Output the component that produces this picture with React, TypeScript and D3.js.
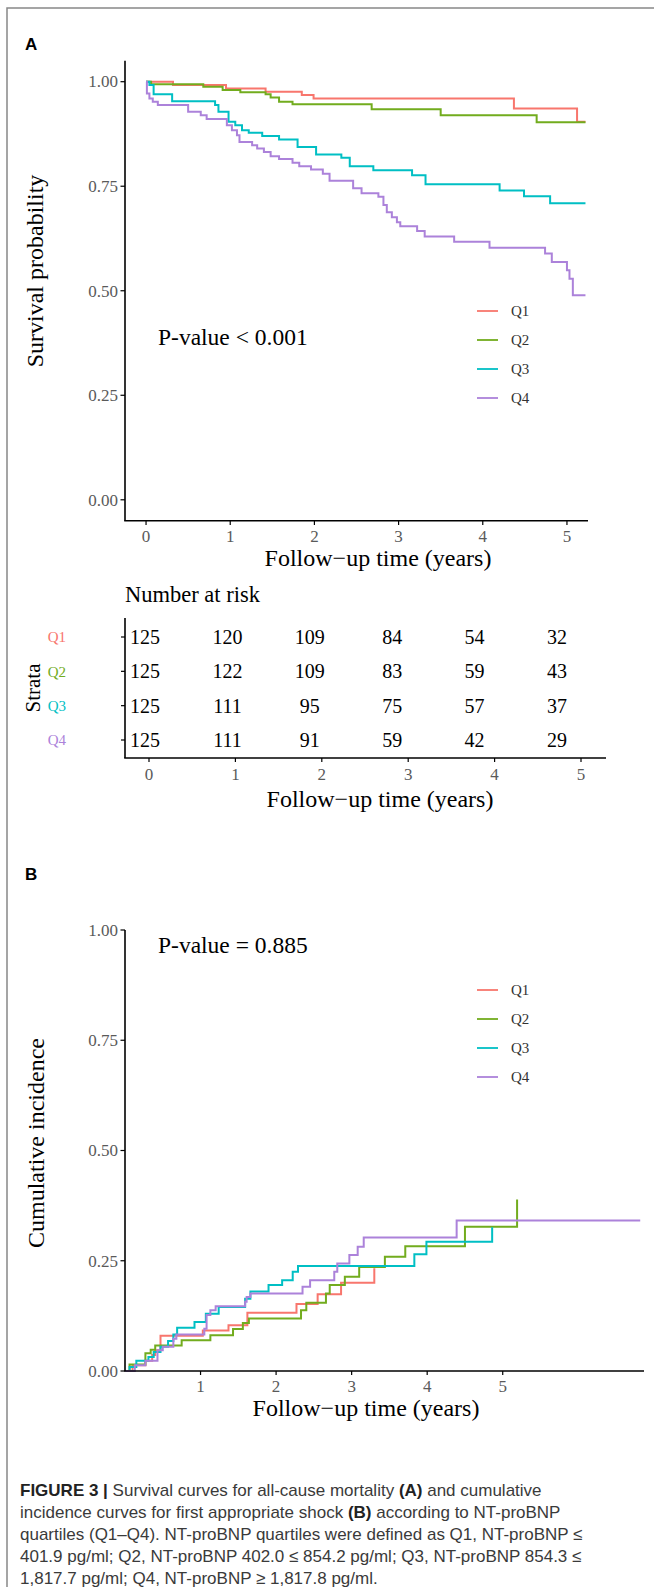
import React from "react";
import * as d3 from "d3";

const groups = ["Q1", "Q2", "Q3", "Q4"];
const colors = ["#F8766D", "#72AC1E", "#00BFC4", "#AC82DA"];

// panel A, Kaplan-Meier: [years, survival probability]
const survQ1 = [[0, 1], [0.32, 0.992], [0.95, 0.984], [1.42, 0.976], [1.85, 0.968], [1.99, 0.96], [4.37, 0.936], [5.12, 0.904]];
const survQ2 = [[0, 1], [0.06, 0.994], [0.68, 0.988], [0.91, 0.98], [1.12, 0.975], [1.42, 0.97], [1.48, 0.962], [1.58, 0.952], [1.74, 0.946], [2.68, 0.934], [3.5, 0.92], [4.64, 0.903]];
const survQ3 = [[0, 1], [0.04, 0.992], [0.09, 0.97], [0.31, 0.953], [0.82, 0.944], [0.86, 0.928], [0.98, 0.904], [1.06, 0.896], [1.14, 0.884], [1.22, 0.878], [1.38, 0.87], [1.58, 0.862], [1.8, 0.844], [2.02, 0.826], [2.32, 0.818], [2.42, 0.798], [2.7, 0.788], [3.16, 0.776], [3.32, 0.755], [4.2, 0.74], [4.49, 0.726], [4.8, 0.709]];
const survQ4 = [[0, 1], [0.01, 0.972], [0.04, 0.96], [0.08, 0.952], [0.14, 0.944], [0.5, 0.928], [0.65, 0.92], [0.72, 0.911], [0.96, 0.896], [1.02, 0.884], [1.08, 0.872], [1.11, 0.856], [1.26, 0.848], [1.32, 0.84], [1.4, 0.832], [1.48, 0.822], [1.58, 0.815], [1.74, 0.806], [1.82, 0.798], [1.96, 0.79], [2.1, 0.78], [2.18, 0.763], [2.46, 0.745], [2.56, 0.733], [2.76, 0.725], [2.82, 0.705], [2.86, 0.688], [2.92, 0.676], [2.98, 0.664], [3.02, 0.654], [3.22, 0.643], [3.31, 0.63], [3.66, 0.617], [4.08, 0.603], [4.74, 0.589], [4.82, 0.569], [5.0, 0.549], [5.03, 0.529], [5.07, 0.489]];
const survEnd = 5.22;

// number at risk
const riskQ1 = [125, 120, 109, 84, 54, 32];
const riskQ2 = [125, 122, 109, 83, 59, 43];
const riskQ3 = [125, 111, 95, 75, 57, 37];
const riskQ4 = [125, 111, 91, 59, 42, 29];

// panel B, cumulative incidence: [years, incidence]
const cifQ1 = [[0, 0], [0.1, 0.013], [0.27, 0.023], [0.36, 0.036], [0.4, 0.047], [0.47, 0.08], [1.03, 0.092], [1.37, 0.104], [1.62, 0.132], [2.27, 0.152], [2.55, 0.174], [2.86, 0.2], [3.3, 0.233]];
const cifQ2 = [[0, 0], [0.06, 0.015], [0.27, 0.04], [0.34, 0.048], [0.4, 0.058], [0.75, 0.07], [1.13, 0.081], [1.43, 0.095], [1.56, 0.109], [1.64, 0.119], [2.33, 0.138], [2.4, 0.155], [2.66, 0.176], [2.71, 0.195], [2.91, 0.214], [3.1, 0.236], [3.44, 0.259], [3.71, 0.283], [4.5, 0.327], [5.19, 0.389]];
const cifQ3 = [[0, 0], [0.06, 0.009], [0.15, 0.023], [0.31, 0.032], [0.38, 0.043], [0.47, 0.055], [0.57, 0.068], [0.64, 0.083], [0.69, 0.098], [0.92, 0.111], [1.07, 0.13], [1.24, 0.145], [1.59, 0.164], [1.66, 0.18], [1.9, 0.195], [2.08, 0.206], [2.22, 0.225], [2.29, 0.238], [3.83, 0.265], [3.99, 0.293], [4.86, 0.326]];
const cifQ4 = [[0, 0], [0.13, 0.013], [0.27, 0.023], [0.43, 0.047], [0.5, 0.055], [0.64, 0.073], [0.68, 0.083], [1.05, 0.096], [1.08, 0.127], [1.13, 0.138], [1.2, 0.147], [1.59, 0.157], [1.61, 0.168], [1.66, 0.176], [2.35, 0.191], [2.45, 0.206], [2.77, 0.225], [2.81, 0.244], [2.97, 0.263], [3.08, 0.282], [3.16, 0.303], [4.39, 0.341], [6.82, 0.341]];

const yearTicks = [0, 1, 2, 3, 4, 5];
const yearTicksB = [1, 2, 3, 4, 5];
const probTicks = [0, 0.25, 0.5, 0.75, 1];

const serif = "Liberation Serif";
const sans = "Liberation Sans";
const tickGray = "#5a5a5a";

function App() {
  const survData = [survQ1, survQ2, survQ3, survQ4].map(s => [...s, [survEnd, s[s.length - 1][1]]]);
  const cifData = [cifQ1, cifQ2, cifQ3, cifQ4];
  const risk = [riskQ1, riskQ2, riskQ3, riskQ4];

  // panel A scales
  const xA = d3.scaleLinear().domain([-0.25, 5.25]).range([125, 588]);
  const yA = d3.scaleLinear().domain([-0.05, 1.05]).range([520.7, 60.8]);
  const lineA = d3.line().x(d => xA(d[0])).y(d => yA(d[1])).curve(d3.curveStepAfter);

  // risk table scales
  const xNum = d3.scaleLinear().domain([0, 5]).range([145, 557]);
  const xRisk = d3.scaleLinear().domain([0, 5]).range([149, 581]);
  const yRisk = d3.scalePoint().domain(groups).range([637, 740]);

  // panel B scales
  const xB = d3.scaleLinear().domain([0, 6.87]).range([125, 644]);
  const yB = d3.scaleLinear().domain([0, 1]).range([1371, 930]);
  const lineB = d3.line().x(d => xB(d[0])).y(d => yB(d[1])).curve(d3.curveStepAfter);

  const legendA = d3.scalePoint().domain(groups).range([311, 398]);
  const legendB = d3.scalePoint().domain(groups).range([990, 1077]);

  const captionLines = [
    [["FIGURE 3 | ", true], ["Survival curves for all-cause mortality ", false], ["(A)", true], [" and cumulative", false]],
    [["incidence curves for first appropriate shock ", false], ["(B)", true], [" according to NT-proBNP", false]],
    [["quartiles (Q1–Q4). NT-proBNP quartiles were defined as Q1, NT-proBNP ≤", false]],
    [["401.9 pg/ml; Q2, NT-proBNP 402.0 ≤ 854.2 pg/ml; Q3, NT-proBNP 854.3 ≤", false]],
    [["1,817.7 pg/ml; Q4, NT-proBNP ≥ 1,817.8 pg/ml.", false]],
  ];

  return (
    <svg width={654} height={1587} style={{position: "absolute", left: 0, top: 0, background: "#fff"}}>
      <rect x={7} y={8} width={660} height={1600} fill="none" stroke="#888" strokeWidth={1.5}/>

      {/* ---------------- panel A ---------------- */}
      <text x={25} y={50} fontFamily={sans} fontWeight="bold" fontSize={17}>A</text>

      {survData.map((d, i) => (
        <path key={i} d={lineA(d)} fill="none" stroke={colors[i]} strokeWidth={2}/>
      ))}

      <line x1={125} x2={125} y1={yA.range()[1]} y2={yA.range()[0]} stroke="#000" strokeWidth={1.6}/>
      <line x1={124.2} x2={588} y1={520.7} y2={520.7} stroke="#000" strokeWidth={1.6}/>
      {probTicks.map(p => (
        <g key={p}>
          <line x1={120.5} x2={125} y1={yA(p)} y2={yA(p)} stroke="#000" strokeWidth={1.2}/>
          <text x={118} y={yA(p)} dy="0.34em" textAnchor="end" fontFamily={serif} fontSize={17} fill={tickGray}>{d3.format(".2f")(p)}</text>
        </g>
      ))}
      {yearTicks.map(t => (
        <g key={t}>
          <line x1={xA(t)} x2={xA(t)} y1={520.7} y2={525} stroke="#000" strokeWidth={1.2}/>
          <text x={xA(t)} y={541.5} textAnchor="middle" fontFamily={serif} fontSize={17} fill={tickGray}>{t}</text>
        </g>
      ))}
      <text x={378} y={566} textAnchor="middle" fontFamily={serif} fontSize={24}>Follow−up time (years)</text>
      <text transform="translate(43,271) rotate(-90)" textAnchor="middle" fontFamily={serif} fontSize={24}>Survival probability</text>
      <text x={158} y={345} fontFamily={serif} fontSize={23.5}>P-value &lt; 0.001</text>

      {groups.map((g, i) => (
        <g key={g}>
          <line x1={477} x2={498} y1={legendA(g)} y2={legendA(g)} stroke={colors[i]} strokeWidth={1.8}/>
          <text x={511} y={legendA(g)} dy="0.35em" fontFamily={serif} fontSize={15} fill="#333">{g}</text>
        </g>
      ))}

      {/* ---------------- risk table ---------------- */}
      <text x={125} y={602} fontFamily={serif} fontSize={22.5}>Number at risk</text>
      <line x1={125} x2={125} y1={618} y2={758} stroke="#000" strokeWidth={1.6}/>
      <line x1={124.2} x2={606} y1={758} y2={758} stroke="#000" strokeWidth={1.6}/>
      {groups.map((g, i) => (
        <g key={g}>
          <line x1={121} x2={125} y1={yRisk(g)} y2={yRisk(g)} stroke="#000" strokeWidth={1.2}/>
          <text x={66} y={yRisk(g)} dy="0.35em" textAnchor="end" fontFamily={serif} fontSize={15} fill={colors[i]}>{g}</text>
          {risk[i].map((n, j) => (
            <text key={j} x={xNum(yearTicks[j])} y={yRisk(g)} dy="0.35em" textAnchor="middle" fontFamily={serif} fontSize={20}>{n}</text>
          ))}
        </g>
      ))}
      {yearTicks.map(t => (
        <g key={t}>
          <line x1={xRisk(t)} x2={xRisk(t)} y1={758} y2={762} stroke="#000" strokeWidth={1.2}/>
          <text x={xRisk(t)} y={780} textAnchor="middle" fontFamily={serif} fontSize={17} fill={tickGray}>{t}</text>
        </g>
      ))}
      <text x={380} y={807} textAnchor="middle" fontFamily={serif} fontSize={24}>Follow−up time (years)</text>
      <text transform="translate(40,688) rotate(-90)" textAnchor="middle" fontFamily={serif} fontSize={21}>Strata</text>

      {/* ---------------- panel B ---------------- */}
      <text x={25} y={880} fontFamily={sans} fontWeight="bold" fontSize={17}>B</text>

      {cifData.map((d, i) => (
        <path key={i} d={lineB(d)} fill="none" stroke={colors[i]} strokeWidth={2}/>
      ))}

      <line x1={125} x2={125} y1={930} y2={1371} stroke="#000" strokeWidth={1.6}/>
      <line x1={124.2} x2={644} y1={1371} y2={1371} stroke="#000" strokeWidth={1.6}/>
      {probTicks.map(p => (
        <g key={p}>
          <line x1={120.5} x2={125} y1={yB(p)} y2={yB(p)} stroke="#000" strokeWidth={1.2}/>
          <text x={118} y={yB(p)} dy="0.34em" textAnchor="end" fontFamily={serif} fontSize={17} fill={tickGray}>{d3.format(".2f")(p)}</text>
        </g>
      ))}
      {yearTicksB.map(t => (
        <g key={t}>
          <line x1={xB(t)} x2={xB(t)} y1={1371} y2={1375} stroke="#000" strokeWidth={1.2}/>
          <text x={xB(t)} y={1392} textAnchor="middle" fontFamily={serif} fontSize={17} fill={tickGray}>{t}</text>
        </g>
      ))}
      <text x={366} y={1416} textAnchor="middle" fontFamily={serif} fontSize={24}>Follow−up time (years)</text>
      <text transform="translate(44,1143) rotate(-90)" textAnchor="middle" fontFamily={serif} fontSize={24}>Cumulative incidence</text>
      <text x={158} y={953} fontFamily={serif} fontSize={23.5}>P-value = 0.885</text>

      {groups.map((g, i) => (
        <g key={g}>
          <line x1={477} x2={498} y1={legendB(g)} y2={legendB(g)} stroke={colors[i]} strokeWidth={1.8}/>
          <text x={511} y={legendB(g)} dy="0.35em" fontFamily={serif} fontSize={15} fill="#333">{g}</text>
        </g>
      ))}

      {/* ---------------- caption ---------------- */}
      {captionLines.map((parts, i) => (
        <text key={i} x={20} y={1496 + i * 22} fontFamily={sans} fontSize={17} fill="#333">
          {parts.map(([s, b], j) => (
            <tspan key={j} fontWeight={b ? "bold" : "normal"} fill={b ? "#222" : "#3a3a3a"}>{s}</tspan>
          ))}
        </text>
      ))}
    </svg>
  );
}

export default App;
